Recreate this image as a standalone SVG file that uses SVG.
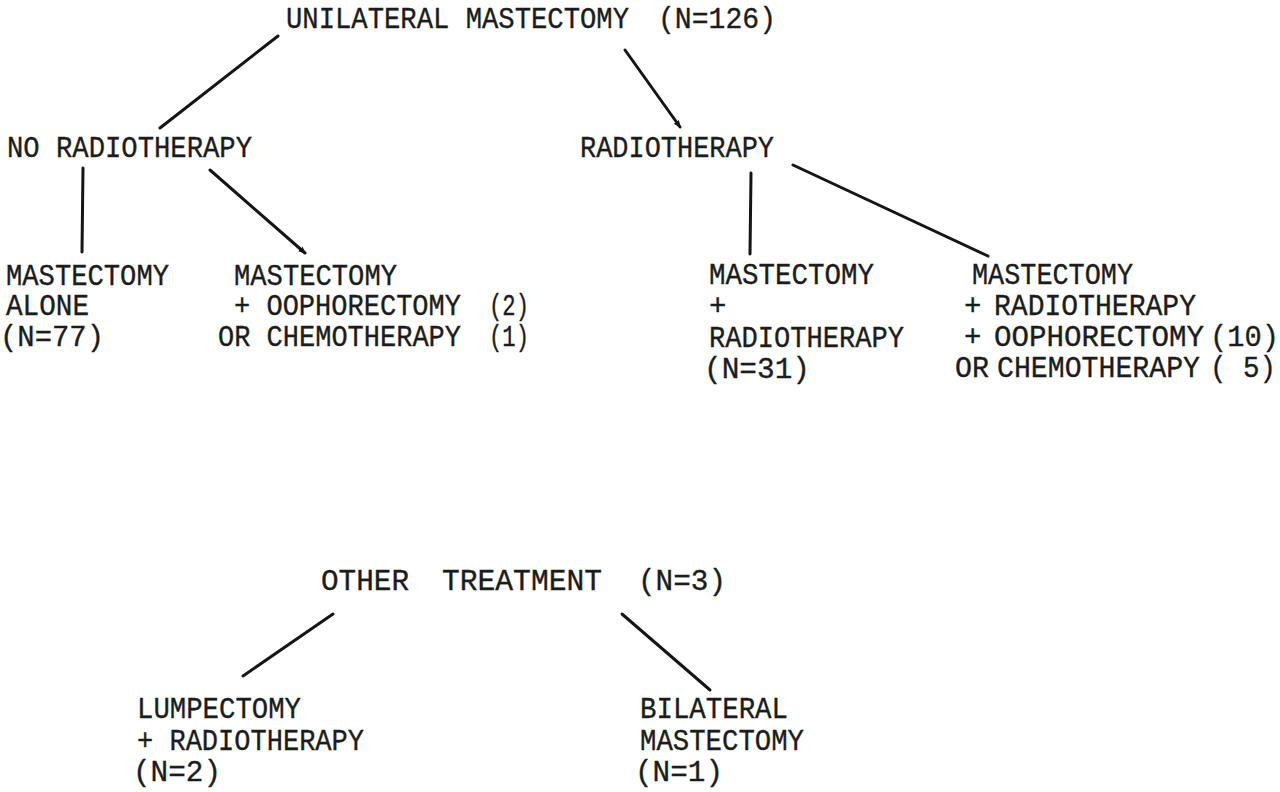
<svg xmlns="http://www.w3.org/2000/svg" width="1280" height="792" viewBox="0 0 1280 792">
<style>
.t{font-family:"Liberation Mono","Courier New",monospace;font-size:29px;fill:#1c1c1c;stroke:#1c1c1c;stroke-width:0.35}
.c{stroke:#151515;stroke-width:3;stroke-linecap:round;fill:none}
</style>
<defs>
<marker id="ah" viewBox="0 0 10 10" refX="8" refY="5" markerWidth="2.6" markerHeight="2.6" orient="auto" markerUnits="strokeWidth">
<path d="M0,1 L10,5 L0,9 z" fill="#151515"/>
</marker>
</defs>
<rect width="1280" height="792" fill="#ffffff"/>

<g id="connectors">
<line class="c" x1="278" y1="36" x2="160" y2="128"/>
<line class="c" x1="625" y1="50" x2="680" y2="127" marker-end="url(#ah)"/>
<line class="c" x1="83" y1="168" x2="82" y2="252"/>
<line class="c" x1="210" y1="170" x2="305" y2="253" marker-end="url(#ah)"/>
<line class="c" x1="751" y1="173" x2="750" y2="254"/>
<line class="c" x1="793" y1="165" x2="988" y2="256"/>
<line class="c" x1="333" y1="614" x2="243" y2="676"/>
<line class="c" x1="622" y1="614" x2="710" y2="690"/>
</g>

<g id="n-unilateral">
<text class="t" x="286" y="28" textLength="343" lengthAdjust="spacingAndGlyphs">UNILATERAL MASTECTOMY</text>
<text class="t" x="658" y="28" textLength="118" lengthAdjust="spacingAndGlyphs">(N=126)</text>
</g>

<g id="n-noradio">
<text class="t" x="7" y="157" textLength="245" lengthAdjust="spacingAndGlyphs">NO RADIOTHERAPY</text>
</g>

<g id="n-radio">
<text class="t" x="580" y="157" textLength="194" lengthAdjust="spacingAndGlyphs">RADIOTHERAPY</text>
</g>

<g id="n-mast-alone">
<text class="t" x="6" y="285" textLength="163" lengthAdjust="spacingAndGlyphs">MASTECTOMY</text>
<text class="t" x="6" y="315" textLength="83" lengthAdjust="spacingAndGlyphs">ALONE</text>
<text class="t" x="0" y="346" textLength="104" lengthAdjust="spacingAndGlyphs">(N=77)</text>
</g>

<g id="n-mast-ooph">
<text class="t" x="234" y="285" textLength="163" lengthAdjust="spacingAndGlyphs">MASTECTOMY</text>
<text class="t" x="234" y="315" textLength="227" lengthAdjust="spacingAndGlyphs">+ OOPHORECTOMY</text>
<text class="t" x="218" y="346" textLength="243" lengthAdjust="spacingAndGlyphs">OR CHEMOTHERAPY</text>
<text class="t" x="489" y="315" textLength="40" lengthAdjust="spacingAndGlyphs">(2)</text>
<text class="t" x="489" y="346" textLength="40" lengthAdjust="spacingAndGlyphs">(1)</text>
</g>

<g id="n-mast-radio">
<text class="t" x="709" y="284" textLength="165" lengthAdjust="spacingAndGlyphs">MASTECTOMY</text>
<text class="t" x="709" y="315">+</text>
<text class="t" x="709" y="347" textLength="195" lengthAdjust="spacingAndGlyphs">RADIOTHERAPY</text>
<text class="t" x="704" y="378" textLength="106" lengthAdjust="spacingAndGlyphs">(N=31)</text>
</g>

<g id="n-mast-radio-ooph">
<text class="t" x="972" y="284" textLength="161" lengthAdjust="spacingAndGlyphs">MASTECTOMY</text>
<text class="t" x="964" y="315">+</text>
<text class="t" x="994" y="315" textLength="202" lengthAdjust="spacingAndGlyphs">RADIOTHERAPY</text>
<text class="t" x="964" y="346">+</text>
<text class="t" x="994" y="346" textLength="210" lengthAdjust="spacingAndGlyphs">OOPHORECTOMY</text>
<text class="t" x="955" y="377" textLength="34" lengthAdjust="spacingAndGlyphs">OR</text>
<text class="t" x="997" y="377" textLength="203" lengthAdjust="spacingAndGlyphs">CHEMOTHERAPY</text>
<text class="t" x="1210" y="346" textLength="69" lengthAdjust="spacingAndGlyphs">(10)</text>
<text class="t" x="1210" y="377" textLength="66" lengthAdjust="spacingAndGlyphs" xml:space="preserve">( 5)</text>
</g>

<g id="n-other">
<text class="t" x="321" y="590" textLength="88" lengthAdjust="spacingAndGlyphs">OTHER</text>
<text class="t" x="442" y="590" textLength="160" lengthAdjust="spacingAndGlyphs">TREATMENT</text>
<text class="t" x="638" y="590" textLength="88" lengthAdjust="spacingAndGlyphs">(N=3)</text>
</g>

<g id="n-lump">
<text class="t" x="137" y="718" textLength="164" lengthAdjust="spacingAndGlyphs">LUMPECTOMY</text>
<text class="t" x="137" y="750" textLength="227" lengthAdjust="spacingAndGlyphs">+ RADIOTHERAPY</text>
<text class="t" x="133" y="781" textLength="88" lengthAdjust="spacingAndGlyphs">(N=2)</text>
</g>

<g id="n-bilateral">
<text class="t" x="640" y="718" textLength="148" lengthAdjust="spacingAndGlyphs">BILATERAL</text>
<text class="t" x="640" y="750" textLength="164" lengthAdjust="spacingAndGlyphs">MASTECTOMY</text>
<text class="t" x="635" y="781" textLength="88" lengthAdjust="spacingAndGlyphs">(N=1)</text>
</g>
</svg>
